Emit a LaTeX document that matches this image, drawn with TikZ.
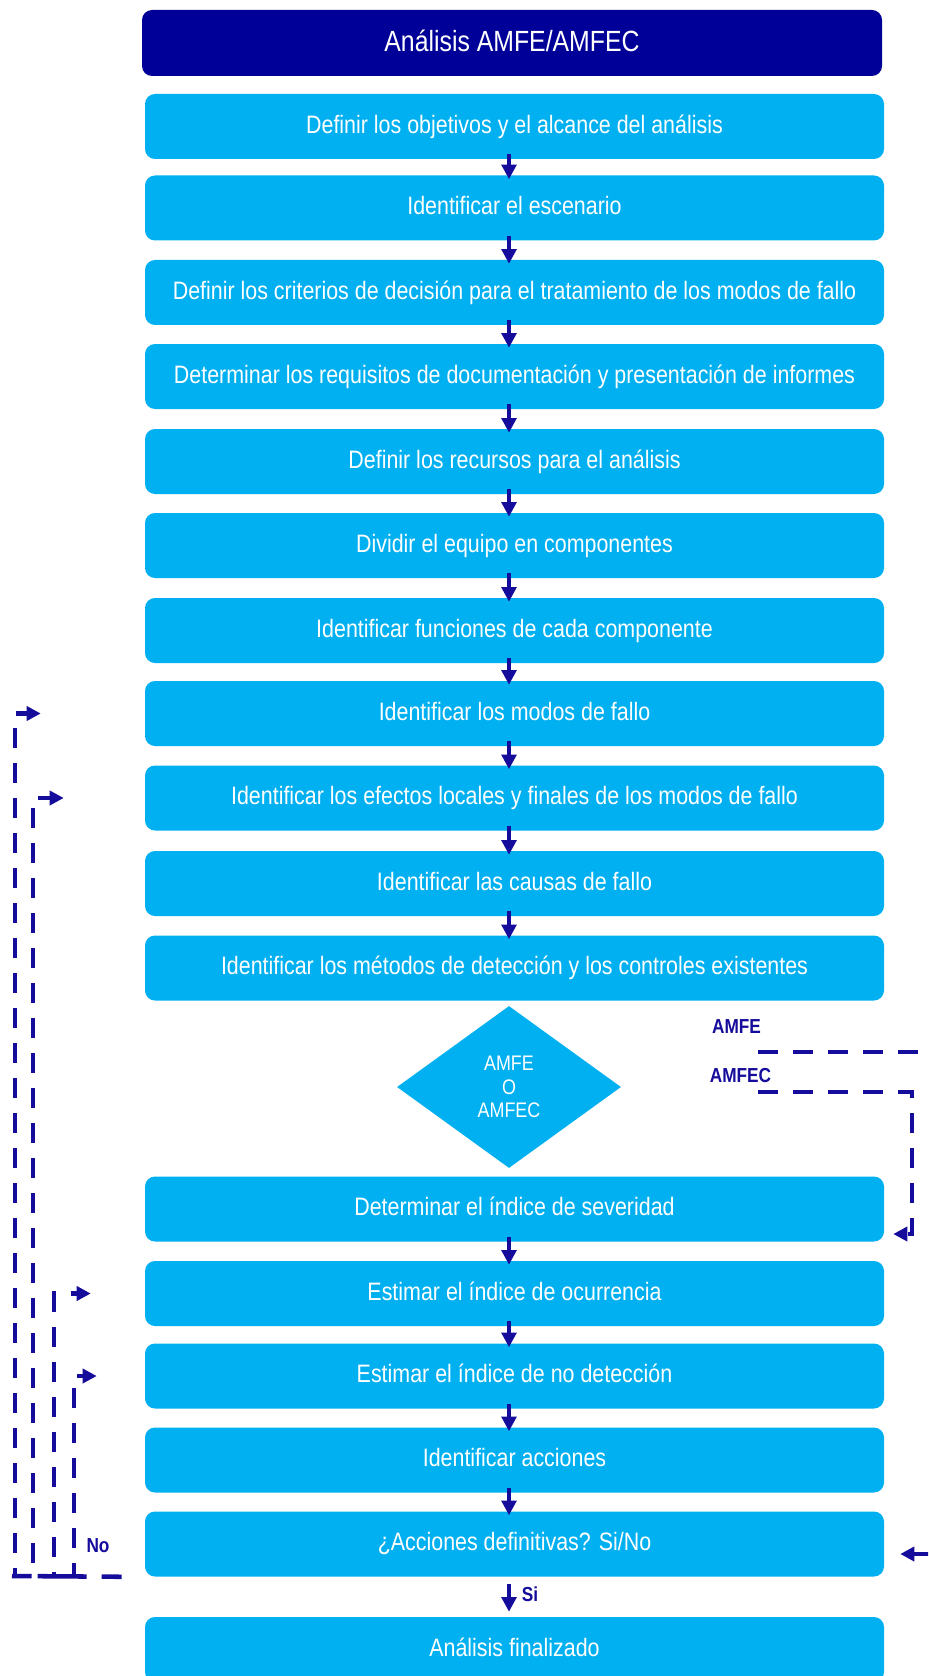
\documentclass[tikz,border=0pt]{standalone}
\usepackage{fontspec}
\setmainfont{Liberation Sans}[FakeStretch=0.85]
\usetikzlibrary{shapes.geometric,arrows.meta,calc}
\definecolor{boxcyan}{RGB}{0,176,240}
\definecolor{headblue}{RGB}{0,0,153}
\definecolor{linkblue}{RGB}{22,12,155}

\begin{document}
\begin{tikzpicture}[x=0.75pt,y=-0.75pt,
  stepbox/.style={fill=boxcyan, rounded corners=7.5pt, minimum width=554.25pt,
    minimum height=48.75pt, inner sep=0pt, text=white,
    text height=13.8pt, text depth=4pt,
    font=\fontsize{18.9pt}{22pt}\selectfont},
  headbox/.style={fill=headblue, rounded corners=7.5pt, minimum width=555pt,
    minimum height=49.5pt, inner sep=0pt, text=white,
    text height=16pt, text depth=2.5pt,
    font=\fontsize{21.9pt}{26pt}\selectfont},
  decision/.style={diamond, fill=boxcyan, minimum width=168pt, minimum height=121.5pt,
    inner sep=0pt, text=white, align=center,
    font=\fontsize{15.8pt}{17.6pt}\selectfont},
  flow/.style={draw=linkblue, line width=3.5pt, -{Triangle[length=11pt,width=11pt]}},
  loop/.style={draw=linkblue, line width=3.4pt, dash pattern=on 15pt off 11.25pt},
  looptip/.style={{Triangle[length=10.5pt,width=10.5pt]}-},
  looparrow/.style={-{Triangle[length=10.5pt,width=10.5pt]}},
  tag/.style={text=linkblue, inner sep=0pt,
    font=\bfseries\fontsize{15.2pt}{18pt}\selectfont}
]
\useasboundingbox (0,0) rectangle (928,1676);
\fill[white] (0,0) rectangle (928,1676);
\clip (0,0) rectangle (928,1676);

% title bar
\node[headbox] (hdr) at (512,43) {Análisis AMFE/AMFEC};

% process steps
\node[stepbox] (b1)  at (514.5,126.5) {Definir los objetivos y el alcance del análisis};
\node[stepbox] (b2)  at (514.5,208)   {Identificar el escenario};
\node[stepbox] (b3)  at (514.5,292.5) {Definir los criterios de decisión para el tratamiento de los modos de fallo};
\node[stepbox] (b4)  at (514.5,376.5) {Determinar los requisitos de documentación y presentación de informes};
\node[stepbox] (b5)  at (514.5,461.5) {Definir los recursos para el análisis};
\node[stepbox] (b6)  at (514.5,545.5) {Dividir el equipo en componentes};
\node[stepbox] (b7)  at (514.5,630.5) {Identificar funciones de cada componente};
\node[stepbox] (b8)  at (514.5,713.5) {Identificar los modos de fallo};
\node[stepbox] (b9)  at (514.5,798)   {Identificar los efectos locales y finales de los modos de fallo};
\node[stepbox] (b10) at (514.5,883.5) {Identificar las causas de fallo};
\node[stepbox] (b11) at (514.5,968)   {Identificar los métodos de detección y los controles existentes};

\node[decision] (dec) at (509,1087) {AMFE\\O\\AMFEC};

\node[stepbox] (b12) at (514.5,1209)   {Determinar el índice de severidad};
\node[stepbox] (b13) at (514.5,1293.5) {Estimar el índice de ocurrencia};
\node[stepbox] (b14) at (514.5,1376)   {Estimar el índice de no detección};
\node[stepbox] (b15) at (514.5,1460)   {Identificar acciones};
\node[stepbox] (b16) at (514.5,1544)   {¿Acciones definitivas? Si/No};
\node[stepbox] (b17) at (514.5,1649.5) {Análisis finalizado};

% vertical axis of the flow arrows
\coordinate (axis) at (509,0);

% step-to-step arrows
\foreach \a/\b in {b1/b2,b2/b3,b3/b4,b4/b5,b5/b6,b6/b7,b7/b8,b8/b9,b9/b10,b10/b11,
                   b12/b13,b13/b14,b14/b15,b15/b16}
  \draw[flow, shorten <=-3.75pt, shorten >=-3pt] (\a.south -| axis) -- (\b.north -| axis);
\draw[flow, shorten <=5.25pt, shorten >=3.75pt] (b16.south -| axis) -- (b17.north -| axis);
\node[tag] (si) at (530,1594) {Si};

% "No" branch: return loops on the left
\node[tag] (no) at (98,1546) {No};
\coordinate (nostart) at ($(b16.south west)+(-23,0)$);
\coordinate (noend) at (12,1576);
\draw[loop, dash pattern=on 15pt off 11.25pt on 36.75pt off 4.5pt on 15pt off 30pt]
  (nostart) -- (noend);

\coordinate (tipA) at ($(b8.west)+(-104,0)$);
\coordinate (tipB) at ($(b9.west)+(-81,0)$);
\coordinate (tipC) at ($(b13.west)+(-54,0)$);
\coordinate (tipD) at ($(b14.west)+(-48,0)$);
\coordinate (baseA) at (15,1576);
\coordinate (baseB) at (33,1576);
\coordinate (baseC) at (54,1576);
\coordinate (baseD) at (74,1576);
\draw[loop, looptip, dash phase=6pt]    (tipA) -| (baseA);
\draw[loop, looptip, dash phase=5.25pt] (tipB) -| (baseB);
\draw[loop, looptip, dash phase=9.75pt] (tipC) -| (baseC);
\draw[loop, looptip, dash phase=9.75pt] (tipD) -| (baseD);

% AMFE / AMFEC branches on the right
\node[tag] (lamfe)  at (736.5,1027)  {AMFE};
\node[tag] (lamfec) at (740.5,1075.5) {AMFEC};

\coordinate (amfeS)  at (758,1052);
\coordinate (amfecS) at (758,1092);
\coordinate (amfecT) at ($(b12.east)+(9,25)$);
\coordinate (amfeT)  at ($(b16.east)+(16,10)$);
\draw[loop, looparrow] (amfecS) -- (912,1092) |- (amfecT);
\draw[loop, looparrow] (amfeS) -- (960,1052) |- (amfeT);
\end{tikzpicture}
\end{document}
